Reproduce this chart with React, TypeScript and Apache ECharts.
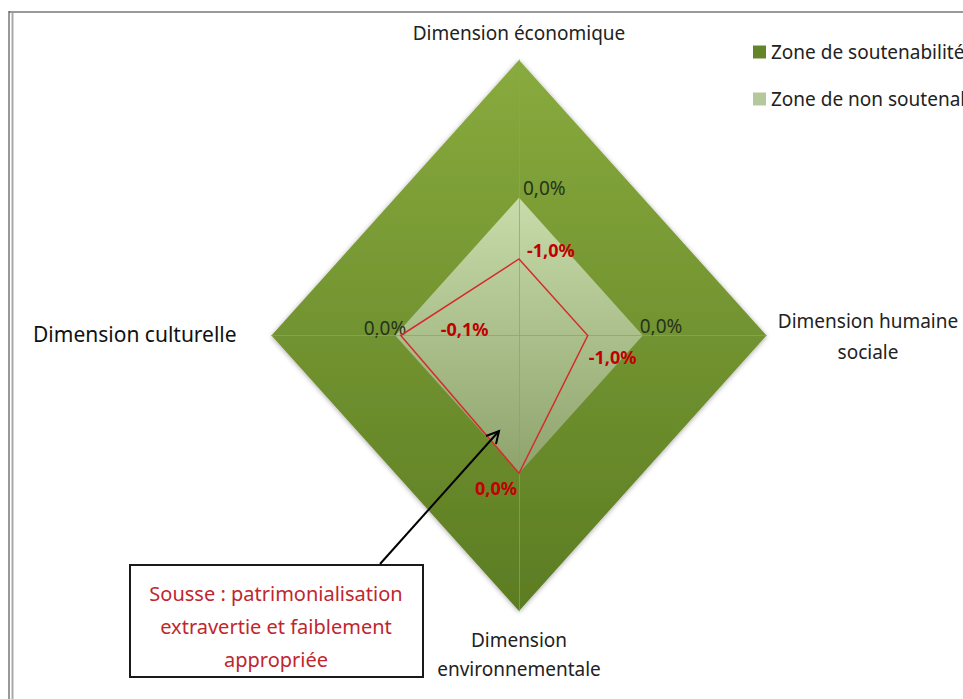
import React, { useEffect, useRef } from "react";
import * as echarts from "echarts";

// Axes of the radar, clockwise from the top
const dimensions = [
  "Dimension économique",
  "Dimension humaine\nsociale",
  "Dimension\nenvironnementale",
  "Dimension culturelle",
];
// values (%) in the same order: top, right, bottom, left
const zoneSoutenabilite = [2.25, 2.25, 2.25, 2.25];
const zoneNonSoutenabilite = [0.0, 0.0, 0.0, 0.0];
const sousse = [-1.0, -1.0, 0.0, -0.1];
const AXIS_MIN = -2.25;
const AXIS_MAX = 2.25;
const annotationText = "Sousse : patrimonialisation\nextravertie et faiblement\nappropriée";

const FONT = "'Noto Sans', 'DejaVu Sans', sans-serif";
const fmt = (v: number) => v.toFixed(1).replace(".", ",") + "%";

type LabelCfg = { dx: number; dy: number; align: string } | null;

function makeRenderItem(style: any, labels: LabelCfg[], labelStyle: any) {
  return (params: any, api: any) => {
    const vals = [api.value(0), api.value(1), api.value(2), api.value(3)];
    const r = vals.map((v: number) => v - AXIS_MIN);
    const pts = [
      api.coord([0, r[0]]),
      api.coord([r[1], 0]),
      api.coord([0, -r[2]]),
      api.coord([-r[3], 0]),
    ];
    const children: any[] = [
      { type: "polygon", shape: { points: pts }, style },
    ];
    labels.forEach((l, i) => {
      if (!l) return;
      children.push({
        type: "text",
        x: pts[i][0] + l.dx,
        y: pts[i][1] + l.dy,
        style: {
          text: fmt(vals[i]),
          align: l.align,
          verticalAlign: "middle",
          ...labelStyle,
        },
      });
    });
    return { type: "group", children };
  };
}

export default function App() {
  const ref = useRef<HTMLDivElement>(null);
  useEffect(() => {
    if (!ref.current) return;
    const chart = echarts.init(ref.current, null, { renderer: "svg" });
    const R = AXIS_MAX - AXIS_MIN;

    const outerFill = new echarts.graphic.LinearGradient(0, 0, 0, 1, [
      { offset: 0, color: "#88aa3d" },
      { offset: 1, color: "#5c7c23" },
    ]);
    const innerFill = new echarts.graphic.LinearGradient(0, 0, 0, 1, [
      { offset: 0, color: "#c8dcab" },
      { offset: 1, color: "#8ea36c" },
    ]);

    const option: any = {
      animation: false,
      backgroundColor: "#ffffff",
      grid: { left: 271.5, top: 60, width: 495, height: 551 },
      xAxis: {
        type: "value",
        min: -R,
        max: R,
        z: 2,
        axisLine: { show: true, onZero: true, lineStyle: { color: "rgba(150,150,150,0.7)", width: 1 } },
        axisTick: { show: false },
        axisLabel: { show: false },
        splitLine: { show: false },
      },
      yAxis: {
        type: "value",
        min: -R,
        max: R,
        z: 2,
        axisLine: { show: true, onZero: true, lineStyle: { color: "rgba(150,150,150,0.7)", width: 1 } },
        axisTick: { show: false },
        axisLabel: { show: false },
        splitLine: { show: false },
      },
      legend: {
        orient: "vertical",
        left: 748,
        top: 37,
        itemWidth: 13,
        itemHeight: 13,
        itemGap: 27,
        selectedMode: false,
        textStyle: { fontFamily: FONT, fontSize: 19, color: "#222", lineHeight: 20 },
        data: [
          { name: "Zone de soutenabilité", icon: "rect", itemStyle: { color: "#62852a" } },
          { name: "Zone de non soutenabilité", icon: "rect", itemStyle: { color: "#b5c89c" } },
        ],
      },
      series: [
        {
          name: "Zone de soutenabilité",
          type: "custom",
          z: 1,
          data: [zoneSoutenabilite],
          renderItem: makeRenderItem(
            { fill: outerFill, shadowBlur: 5, shadowColor: "rgba(0,0,0,0.35)", shadowOffsetY: 1 },
            [null, null, null, null],
            {}
          ),
        },
        {
          name: "Zone de non soutenabilité",
          type: "custom",
          z: 1.5,
          data: [zoneNonSoutenabilite],
          renderItem: makeRenderItem(
            { fill: innerFill },
            [
              { dx: 4, dy: -10, align: "left" },
              { dx: -3, dy: -10, align: "left" },
              null,
              { dx: 11, dy: -8, align: "right" },
            ],
            { fill: "#26331a", fontFamily: FONT, fontSize: 19 }
          ),
        },
        {
          name: "Sousse",
          type: "custom",
          z: 3,
          data: [sousse],
          renderItem: makeRenderItem(
            { fill: "none", stroke: "#d42c2c", lineWidth: 1.5 },
            [
              { dx: 8, dy: -9, align: "left" },
              { dx: 1, dy: 21, align: "left" },
              { dx: -2, dy: 15, align: "right" },
              { dx: 40, dy: -7, align: "left" },
            ],
            { fill: "#c00000", fontFamily: FONT, fontSize: 18, fontWeight: "bold" }
          ),
        },
      ],
      graphic: [
        // frame
        { type: "line", shape: { x1: 9, y1: 12, x2: 963, y2: 12 }, style: { stroke: "#9a9a9a", lineWidth: 2 } },
        { type: "line", shape: { x1: 9, y1: 11, x2: 9, y2: 699 }, style: { stroke: "#333", lineWidth: 1 } },
        { type: "line", shape: { x1: 12.5, y1: 13, x2: 12.5, y2: 699 }, style: { stroke: "#aaaaaa", lineWidth: 2 } },
        // dimension names
        {
          type: "text", x: 519, y: 33,
          style: { text: dimensions[0], align: "center", verticalAlign: "middle", fontFamily: FONT, fontSize: 19, fill: "#222" },
        },
        {
          type: "text", x: 868, y: 336,
          style: { text: dimensions[1], align: "center", verticalAlign: "middle", lineHeight: 31, fontFamily: FONT, fontSize: 19, fill: "#222" },
        },
        {
          type: "text", x: 519, y: 654,
          style: { text: dimensions[2], align: "center", verticalAlign: "middle", lineHeight: 29, fontFamily: FONT, fontSize: 19, fill: "#222" },
        },
        {
          type: "text", x: 33, y: 334,
          style: { text: dimensions[3], align: "left", verticalAlign: "middle", fontFamily: FONT, fontSize: 21, fill: "#111" },
        },
        // annotation
        {
          type: "rect", shape: { x: 130, y: 565, width: 293, height: 112 },
          style: { fill: "#fff", stroke: "#1a1a1a", lineWidth: 2 }, z: 10,
        },
        {
          type: "text", x: 276, y: 626, z: 11,
          style: { text: annotationText, align: "center", verticalAlign: "middle", lineHeight: 33, fontFamily: FONT, fontSize: 20, fill: "#c0262d" },
        },
        {
          type: "line", z: 10, shape: { x1: 380, y1: 564, x2: 499, y2: 431 },
          style: { stroke: "#000", lineWidth: 2 },
        },
        {
          type: "polyline", z: 10, shape: { points: [[486, 436], [499, 431], [496, 444]] },
          style: { stroke: "#000", lineWidth: 2, fill: "none" },
        },
      ],
    };
    chart.setOption(option);
    return () => chart.dispose();
  }, []);

  return (
    <div
      ref={ref}
      style={{ position: "absolute", left: 0, top: 0, width: 963, height: 699 }}
    />
  );
}
